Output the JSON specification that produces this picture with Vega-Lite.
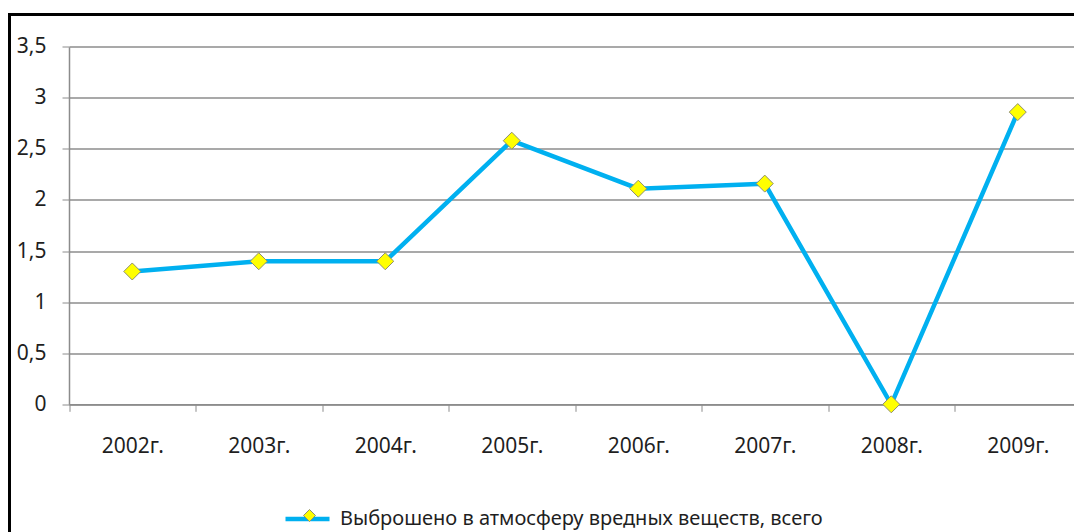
{
  "$schema": "https://vega.github.io/schema/vega-lite/v6.json",
  "autosize": "none",
  "width": 1100,
  "height": 540,
  "padding": {"left": 9.5, "top": 14.5, "right": 0, "bottom": 0},
  "background": "#ffffff",
  "config": {
    "view": {"stroke": "#000000", "strokeWidth": 3},
    "font": "Noto Sans"
  },
  "data": {
    "values": [
      {"year": "2002г.", "value": 1.3, "series": "Выброшено в атмосферу вредных веществ, всего"},
      {"year": "2003г.", "value": 1.4, "series": "Выброшено в атмосферу вредных веществ, всего"},
      {"year": "2004г.", "value": 1.4, "series": "Выброшено в атмосферу вредных веществ, всего"},
      {"year": "2005г.", "value": 2.58, "series": "Выброшено в атмосферу вредных веществ, всего"},
      {"year": "2006г.", "value": 2.11, "series": "Выброшено в атмосферу вредных веществ, всего"},
      {"year": "2007г.", "value": 2.16, "series": "Выброшено в атмосферу вредных веществ, всего"},
      {"year": "2008г.", "value": 0, "series": "Выброшено в атмосферу вредных веществ, всего"},
      {"year": "2009г.", "value": 2.86, "series": "Выброшено в атмосферу вредных веществ, всего"}
    ]
  },
  "encoding": {
    "x": {
      "field": "year", "type": "nominal", "sort": null, "bandPosition": 0.5,
      "scale": {"type": "band", "range": [59.5, 1071.5], "paddingInner": 0, "paddingOuter": 0},
      "axis": {
        "title": null, "orient": "bottom", "offset": -150.2,
        "tickBand": "extent", "tickSize": 7, "tickColor": "#8c8c8c", "tickWidth": 1,
        "domainColor": "#8c8c8c", "domainWidth": 1.5,
        "labelFontSize": 21, "labelColor": "#1f1f1f", "labelPadding": 24, "labelAngle": 0,
        "grid": false
      }
    },
    "y": {
      "field": "value", "type": "quantitative",
      "scale": {"domain": [0, 3.5], "range": [389.8, 32.2], "nice": false, "zero": true},
      "axis": {
        "title": null, "orient": "left", "offset": -59.5,
        "values": [0, 0.5, 1, 1.5, 2, 2.5, 3, 3.5],
        "labelExpr": "replace(format(datum.value, '~g'), '.', ',')",
        "tickSize": 7, "tickColor": "#8c8c8c", "tickWidth": 1,
        "domainColor": "#8c8c8c", "domainWidth": 1.5,
        "grid": true, "gridColor": "#8c8c8c", "gridWidth": 1.5,
        "labelFontSize": 21, "labelColor": "#1f1f1f", "labelPadding": 16
      }
    }
  },
  "layer": [
    {
      "mark": {"type": "line", "strokeWidth": 4.5},
      "encoding": {
        "stroke": {
          "field": "series", "type": "nominal",
          "scale": {"range": ["#00b0f0"]},
          "legend": {
            "orient": "none", "legendX": 273.5, "legendY": 480, "title": null,
            "symbolType": "stroke", "symbolStrokeWidth": 4.5, "symbolSize": 1936,
            "labelFontSize": 20, "labelColor": "#1f1f1f", "labelOffset": 8, "labelLimit": 0
          }
        }
      }
    },
    {
      "mark": {"type": "point", "shape": "diamond", "filled": true, "size": 289, "stroke": "#8f8f6f", "strokeWidth": 1, "opacity": 1},
      "encoding": {
        "fill": {
          "datum": "marker", "type": "nominal",
          "scale": {"range": ["#ffff00"]},
          "legend": {
            "orient": "none", "legendX": 293.5, "legendY": 494.5, "title": null,
            "symbolType": "diamond", "symbolSize": 144, "symbolStrokeColor": "#8f8f6f", "symbolStrokeWidth": 1,
            "symbolOpacity": 1, "labelExpr": "''"
          }
        }
      }
    }
  ]
}
